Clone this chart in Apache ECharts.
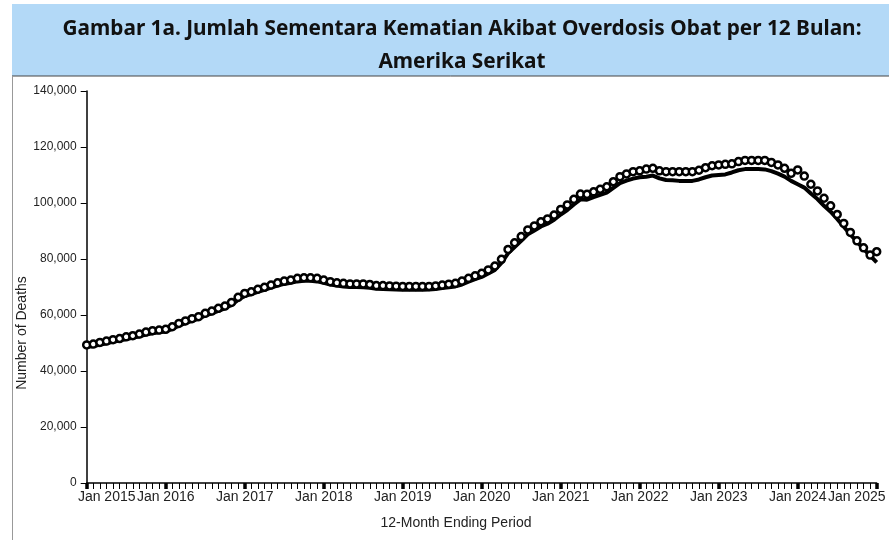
<!DOCTYPE html>
<html>
<head>
<meta charset="utf-8">
<script src="https://cdn.jsdelivr.net/npm/echarts@6/dist/echarts.min.js"></script>
<style>
html,body{margin:0;padding:0;background:#fff;}
#chart{width:889px;height:540px;}
</style>
</head>
<body>
<div id="chart"></div>
<script>
const monthNames = ['Jan','Feb','Mar','Apr','May','Jun','Jul','Aug','Sep','Oct','Nov','Dec'];
const years = [2015,2016,2017,2018,2019,2020,2021,2022,2023,2024,2025];
const categories = [];
years.forEach(y => monthNames.forEach(m => { if (y < 2025 || m === 'Jan') categories.push(m + ' ' + y); }));

// Predicted provisional counts (circles), thousands
const predicted = [
  49.3,49.6,50.2,50.7,51.2,51.6,52.2,52.6,53.2,53.9,54.4,54.6,
  54.9,55.8,57.0,57.9,58.7,59.4,60.6,61.4,62.4,63.2,64.5,66.3,
  67.7,68.3,69.2,69.9,70.7,71.5,72.1,72.5,73.1,73.3,73.3,73.1,
  72.5,71.9,71.5,71.3,71.1,71.1,71.1,70.9,70.5,70.5,70.4,70.3,
  70.2,70.2,70.2,70.2,70.2,70.4,70.7,71.0,71.3,72.1,73.1,74.0,
  74.9,76.1,77.5,79.9,83.4,85.8,88.0,90.4,91.8,93.3,94.3,95.7,
  97.7,99.3,101.3,103.2,103.1,104.0,104.9,105.8,107.6,109.4,110.4,111.2,
  111.5,112.1,112.4,111.5,111.2,111.2,111.2,111.2,111.2,111.7,112.6,113.3,
  113.6,113.8,114.0,114.8,115.2,115.2,115.2,115.2,114.5,113.6,112.4,110.6,
  111.8,109.6,106.7,104.3,101.7,99.0,95.9,92.7,89.5,86.5,84.0,81.4,
  82.6
];
// Reported provisional counts (solid line), thousands
const reported = [
  48.6,48.9,49.4,49.9,50.4,50.9,51.4,51.9,52.4,53.0,53.5,53.8,
  54.1,55.0,56.2,57.1,57.9,58.6,59.8,60.6,61.5,62.4,63.6,65.4,
  66.8,67.5,68.3,69.0,69.8,70.5,71.1,71.5,72.0,72.2,72.2,72.0,
  71.5,70.9,70.5,70.2,70.0,70.0,69.9,69.7,69.4,69.3,69.2,69.1,
  69.0,69.0,69.0,69.0,69.1,69.3,69.6,69.9,70.2,70.9,71.9,72.8,
  73.6,74.8,76.1,78.6,82.0,84.3,86.5,88.8,90.2,91.6,92.6,94.0,
  95.9,97.5,99.5,101.3,101.2,102.1,102.9,103.7,105.4,107.1,108.0,108.7,
  109.2,109.4,109.8,108.8,108.2,108.1,107.9,107.9,107.9,108.4,109.2,109.8,
  110.0,110.2,110.9,111.7,112.1,112.1,112.1,112.0,111.4,110.5,109.4,107.9,
  106.7,105.5,103.4,101.4,99.0,96.9,94.3,91.5,88.8,86.2,83.6,81.2,
  78.8
];
const yTicks = [0,20000,40000,60000,80000,100000,120000,140000];

const chart = echarts.init(document.getElementById('chart'), null, {renderer:'canvas'});
const labelFont = '"Liberation Sans", Arial, sans-serif';
const isJan = (i) => i % 12 === 0;

chart.setOption({
  animation: false,
  backgroundColor: '#fff',
  title: {
    text: 'Gambar 1a. Jumlah Sementara Kematian Akibat Overdosis Obat per 12 Bulan:\nAmerika Serikat',
    left: 457, top: 8, textAlign: 'center',
    textStyle: {fontFamily: '"Noto Sans", sans-serif', fontWeight: 'bold', fontSize: 20.8, lineHeight: 33, color: '#111'}
  },
  graphic: [
    {type: 'rect', z: -10, shape: {x: 12, y: 4, width: 890, height: 72}, style: {fill: '#b3d9f7'}},
    {type: 'line', z: -5, shape: {x1: 12, y1: 76, x2: 889, y2: 76}, style: {stroke: '#444', lineWidth: 1}},
    {type: 'line', z: -5, shape: {x1: 12.5, y1: 76, x2: 12.5, y2: 540}, style: {stroke: '#999', lineWidth: 1}},
    {type: 'text', x: 22, y: 333, rotation: Math.PI / 2,
      style: {text: 'Number of Deaths', fontSize: 14, fontFamily: labelFont, fill: '#222', align: 'center', verticalAlign: 'middle'}},
    {type: 'text', x: 456, y: 523,
      style: {text: '12-Month Ending Period', fontSize: 14, fontFamily: labelFont, fill: '#222', align: 'center', verticalAlign: 'middle'}}
  ],
  grid: {left: 86.7, right: 12.3, top: 91, bottom: 57, containLabel: false, outerBoundsMode: 'none'},
  xAxis: [
    {
      type: 'category', data: categories, boundaryGap: false,
      axisLine: {lineStyle: {color: '#000', width: 1.5}},
      axisTick: {show: true, interval: 0, length: 6, lineStyle: {color: '#000', width: 1}},
      axisLabel: {
        interval: (i) => isJan(i), margin: 7, fontSize: 14, fontFamily: labelFont, color: '#222',
        formatter: (v, i) => i === 0 ? '{first|' + v + '}' : (i === categories.length - 1 ? '{last|' + v + '}' : v),
        rich: {
          first: {fontSize: 14, fontFamily: labelFont, color: '#222', padding: [0, 0, 0, 40]},
          last: {fontSize: 14, fontFamily: labelFont, color: '#222', padding: [0, 40, 0, 0]}
        }
      },
      splitLine: {show: false}
    },
    {
      type: 'category', data: categories, boundaryGap: false, position: 'bottom', gridIndex: 0,
      axisLine: {show: false},
      axisTick: {show: true, interval: (i) => isJan(i), length: 6, lineStyle: {color: '#000', width: 3.5}},
      axisLabel: {show: false},
      splitLine: {show: false}
    }
  ],
  yAxis: {
    type: 'value', min: 0, max: 140000, interval: 20000,
    axisLine: {show: true, lineStyle: {color: '#000', width: 1.5}},
    axisTick: {show: true, length: 6, lineStyle: {color: '#000', width: 1}},
    axisLabel: {margin: 10, fontSize: 12, fontFamily: labelFont, color: '#222',
      formatter: (v) => v.toLocaleString('en-US')},
    splitLine: {show: false}
  },
  series: [
    {
      name: 'Reported', type: 'line', xAxisIndex: 0,
      data: reported.map(v => v * 1000),
      showSymbol: false, symbol: 'none', smooth: false,
      lineStyle: {color: '#000', width: 4}, z: 2
    },
    {
      name: 'Predicted', type: 'line', xAxisIndex: 0,
      data: predicted.map(v => v * 1000),
      symbol: 'circle', symbolSize: 7, showSymbol: true, showAllSymbol: true,
      lineStyle: {width: 0, opacity: 0},
      itemStyle: {color: '#fff', borderColor: '#000', borderWidth: 2.5}, z: 3
    }
  ]
});
</script>
</body>
</html>
